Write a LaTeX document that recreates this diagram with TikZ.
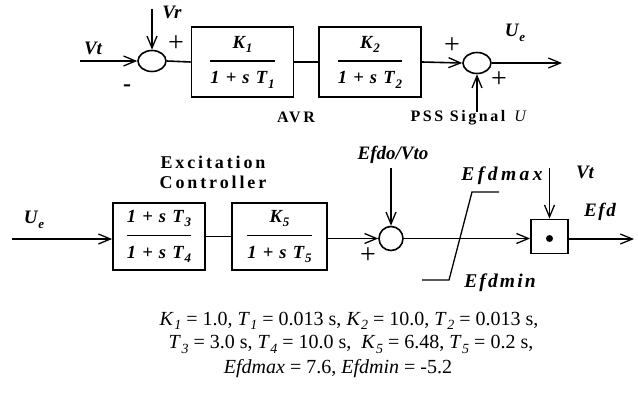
\documentclass[tikz,border=0pt]{standalone}
\usepackage{fontspec}
\setmainfont{Liberation Serif}
\newfontfamily\spfont[LetterSpace=8]{Liberation Serif}
\newfontfamily\wdfont[LetterSpace=16]{Liberation Serif}
\newfontfamily\maxfont[LetterSpace=18]{Liberation Serif}
\newfontfamily\minfont[LetterSpace=11]{Liberation Serif}
\usetikzlibrary{arrows.meta,shapes.geometric}
\newcommand\sbs[1]{\kern1pt\raisebox{-0.5ex}{\fontsize{13}{13}\selectfont #1}}
\newcommand\frc[2]{{\setlength{\arrayrulewidth}{1.6pt}\begin{tabular}{@{}c@{}}#1\\[6pt]\hline\rule{0pt}{22pt}#2\end{tabular}}}
\newcommand\vsub[2]{\textit{#1}\kern0.5pt\raisebox{-0.5ex}{\fontsize{14}{14}\selectfont\textit{#2}}}
\begin{document}
\begin{tikzpicture}[x=1pt,y=-1pt,
  line width=1.6pt,
  arr/.style={-{Straight Barb[length=12pt,width=10pt,line width=1.3pt]}},
  blk/.style={draw,line width=1.8pt,minimum width=102pt,minimum height=70pt,inner sep=0pt,
    font=\fontsize{18.5}{20}\selectfont\spfont\bfseries\itshape},
  sumj/.style={draw,ellipse,line width=1.6pt,minimum width=28pt,minimum height=21pt,inner sep=0pt},
  lbl/.style={font=\fontsize{19}{21}\selectfont\bfseries\itshape,inner sep=0pt},
  captxt/.style={font=\fontsize{16}{18}\selectfont\wdfont\bfseries,inner sep=0pt,align=center},
  sgn/.style={font=\fontsize{28}{28}\selectfont,inner sep=0pt},
  eqn/.style={font=\fontsize{20}{22}\selectfont,inner sep=0pt,anchor=base}]
\useasboundingbox (0,0) rectangle (638,418);
% top row
\node[sumj] (s1) at (152,61) {};
\node[blk] (b1) at (242.5,62) {\frc{K\sbs{1}}{1 + s T\sbs{1}}};
\node[blk] (b2) at (370,62) {\frc{K\sbs{2}}{1 + s T\sbs{2}}};
\node[sumj] (s2) at (477,63) {};
\coordinate (vtin) at (80,61);
\coordinate (vrin) at (152,9);
\coordinate (ueout) at (562,63);
\coordinate (pssin) at (477,112);
\draw[arr] (vtin) -- (s1.west);
\draw[arr] (vrin) -- (s1.north);
\draw (s1.east) -- (b1.west);
\draw (b1.east) -- (b2.west);
\draw[arr] (b2.east) -- (s2.west);
\draw[arr] (s2.east) -- (ueout);
\draw[arr] (pssin) -- (s2.south);
\node[lbl] (lvt) at (93,48) {Vt};
\node[lbl] (lvr) at (172,12) {Vr};
\node[sgn] (p1) at (176,44) {+};
\node[sgn,font=\fontsize{24}{24}\selectfont\bfseries] (m1) at (127,88) {-};
\node[sgn] (p2) at (452,46) {+};
\node[sgn] (p3) at (499,80) {+};
\node[lbl] (lue) at (515,33) {U\sbs{e}};
\node[captxt] (lavr) at (296,117) {AVR};
\node[captxt] (lpss) at (470,118) {PSS Signal \textmd{\itshape U}};
% bottom row
\node[captxt,font=\fontsize{18}{20}\selectfont\wdfont\bfseries] (lexc) at (213,172) {Excitation\\Controller};
\node[blk,minimum width=92pt,minimum height=67pt] (b3) at (159,236.5) {\frc{1 + s T\sbs{3}}{1 + s T\sbs{4}}};
\node[blk,minimum width=95pt,minimum height=67pt] (b4) at (279.5,236.5) {\frc{K\sbs{5}}{1 + s T\sbs{5}}};
\node[draw,circle,line width=1.6pt,minimum size=24pt,inner sep=0pt] (s3) at (391,238.5) {};
\node[draw,line width=1.8pt,minimum width=37pt,minimum height=34pt,inner sep=0pt] (mul) at (549.5,236.5) {};
\fill (mul.center) +(0,2) circle (3.5pt);
\coordinate (uein) at (12,239);
\coordinate (efdoin) at (391,168);
\coordinate (vt2in) at (549.5,168);
\coordinate (efdout) at (634,239);
\draw[arr] (uein) -- (b3.west |- uein);
\draw (b3.east) -- (b4.west);
\draw[arr] (b4.east |- s3) -- (s3.west);
\draw[arr] (efdoin) -- (s3.north);
\draw[arr] (s3.east) -- (mul.west |- s3);
\draw[arr] (vt2in) -- (mul.north);
\draw[arr] (mul.east |- efdout) -- (efdout);
\draw[line width=1.3pt] (499,192) -- (472,192) -- (449,280) -- (422,280);
\node[lbl] (lue2) at (34,220) {U\sbs{e}};
\node[lbl] (lefdo) at (393,155) {Efdo/Vto};
\node[lbl,font=\fontsize{19.5}{21}\selectfont\maxfont\bfseries\itshape] (lmax) at (502,176) {Efdmax};
\node[lbl,font=\fontsize{19.5}{21}\selectfont\minfont\bfseries\itshape] (lmin) at (500,283) {Efdmin};
\node[lbl] (lvt2) at (585,172) {Vt};
\node[lbl,font=\fontsize{19}{21}\selectfont\spfont\bfseries\itshape] (lefd) at (600,212) {Efd};
\node[sgn] (p4) at (368,256) {+};
% equations
\node[eqn] (e1) at (349,325) {\vsub{K}{1} = 1.0, \vsub{T}{1} = 0.013 s, \vsub{K}{2} = 10.0, \vsub{T}{2} = 0.013 s,};
\node[eqn] (e2) at (351,348.5) {\vsub{T}{3} = 3.0 s, \vsub{T}{4} = 10.0 s, ~\vsub{K}{5} = 6.48, \vsub{T}{5} = 0.2 s,};
\node[eqn] (e3) at (338,373) {\textit{Efdmax} = 7.6, \textit{Efdmin} = -5.2};
\end{tikzpicture}
\end{document}
